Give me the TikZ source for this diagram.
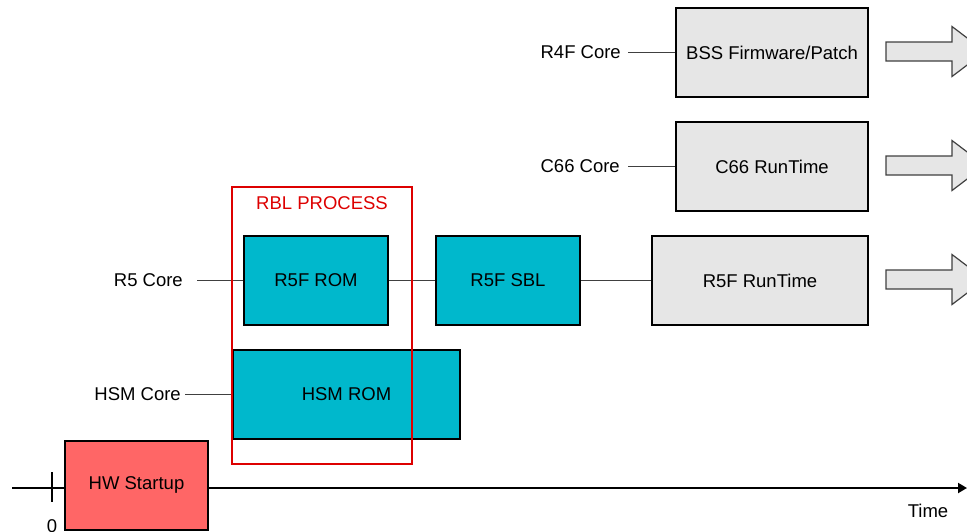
\documentclass[tikz,border=0pt]{standalone}
\usepackage{fontspec}
\setmainfont{Liberation Sans}
\usetikzlibrary{arrows.meta}
\definecolor{romcyan}{HTML}{00B8CC}
\definecolor{hwred}{HTML}{FF6666}
\definecolor{rtgray}{HTML}{E6E6E6}
\definecolor{rblred}{HTML}{DD0000}
\definecolor{linegray}{HTML}{404040}
\tikzset{
    every node/.style={font=\fontsize{18.5}{22}\selectfont},
    blk/.style={draw=black, line width=2pt, inner sep=0pt, minimum height=89pt},
    corelbl/.style={anchor=east, inner sep=0pt},
    conn/.style={draw=linegray, line width=1.2pt},
}
\begin{document}
\begin{tikzpicture}[x=1pt, y=-1pt]
    \useasboundingbox (0,0) rectangle (967,531);
    \clip (0,0) rectangle (967,531);
    % time axis
    \draw[line width=2pt, -{Triangle[length=9pt,width=10pt]}] (12,488) -- (967,488);
    \draw[line width=1.2pt] (52,472) -- (52,502);
    \node (zero) at (52,526) {0};
    \node (time) at (928,511) {Time};
    % blocks
    \node[blk, fill=hwred, minimum width=143pt] (hw) at (136.5,485) {HW Startup};
    \node[blk, fill=romcyan, minimum width=227pt] (hsm) at (346.5,394.5) {HSM ROM};
    \node[blk, fill=romcyan, minimum width=144pt] (rom) at (316,280.5) {R5F ROM};
    \node[blk, fill=romcyan, minimum width=144pt] (sbl) at (508,280.5) {R5F SBL};
    \node[blk, fill=rtgray, minimum width=216pt] (r5rt) at (760,280.5) {R5F RunTime};
    \node[blk, fill=rtgray, minimum width=192pt] (c66rt) at (772,166.5) {C66 RunTime};
    \node[blk, fill=rtgray, minimum width=192pt] (bss) at (772,52.5) {BSS Firmware/Patch};
    % core labels
    \node[corelbl] (r4f) at (621,52.5) {R4F Core};
    \node[corelbl] (c66) at (620,166.5) {C66 Core};
    \node[corelbl] (r5) at (183,280.5) {R5 Core};
    \node[corelbl] (hsmc) at (181,394.5) {HSM Core};
    \draw[conn, shorten <=7pt] (r4f) -- (bss);
    \draw[conn, shorten <=8pt] (c66) -- (c66rt);
    \draw[conn, shorten <=14pt] (r5) -- (rom);
    \draw[conn, shorten <=4pt] (hsmc) -- (hsm);
    \draw[conn] (rom) -- (sbl);
    \draw[conn] (sbl) -- (r5rt);
    % continuation arrows
    \foreach \yy in {51.5,165.5,279.5}
        \draw[draw=linegray, fill=rtgray, line width=1.2pt]
            (886,\yy-9.5) -- (952,\yy-9.5) -- (952,\yy-25) -- (985,\yy)
            -- (952,\yy+25) -- (952,\yy+9.5) -- (886,\yy+9.5) -- cycle;
    % RBL process frame
    \draw[rblred, line width=2pt] (232,187) rectangle (412,464);
    \node[text=rblred] (rbl) at (322,203) {RBL PROCESS};
\end{tikzpicture}
\end{document}
